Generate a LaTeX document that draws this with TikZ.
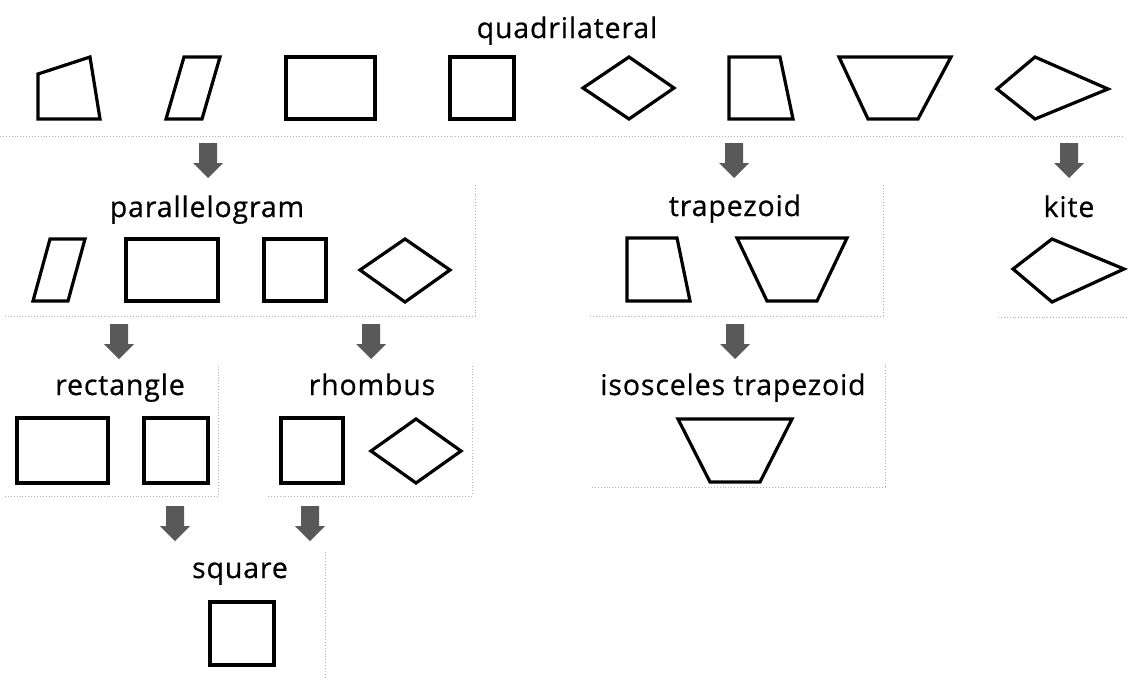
\documentclass[tikz,border=0pt]{standalone}
\usepackage{fontspec}
\setmainfont{Open Sans}
\newfontfamily\lblfont[LetterSpace=3, FakeBold=0.6]{Open Sans}
\tikzset{
  fig/.style={draw=black, line width=3.2pt, line join=miter},
  lbl/.style={font=\lblfont\fontsize{28.5}{33}\selectfont, anchor=base, inner sep=0pt},
  edge/.style={draw=black!30, line width=0.9pt, dotted},
  downarrow/.pic={\fill[black!65] (-9,0) -- (9,0) -- (9,20) -- (15,20) -- (0,35) -- (-15,20) -- (-9,20) -- cycle;},
}
\begin{document}
\begin{tikzpicture}[x=1pt,y=-1pt]
\useasboundingbox (0,0) rectangle (1128,680);
% group edges
\draw[edge] (0,136) -- (1125,136);
\draw[edge] (5,316) -- (475,316) -- (475,185);
\draw[edge] (590,316) -- (883,316) -- (883,183);
\draw[edge] (998,317) -- (1128,317);
\draw[edge] (5,496) -- (218,496) -- (218,365);
\draw[edge] (268,496) -- (472,496) -- (472,365);
\draw[edge] (592,487) -- (885,487) -- (885,365);
\draw[edge] (325,552) -- (325,680);
% labels
\node[lbl] (quad) at (567,38) {quadrilateral};
\node[lbl] (para) at (207,217) {parallelogram};
\node[lbl] (trap) at (735,216) {trapezoid};
\node[lbl] (kite) at (1069,217) {kite};
\node[lbl] (rect) at (120,395) {rectangle};
\node[lbl] (rhom) at (372,395) {rhombus};
\node[lbl] (isot) at (733,395) {isosceles trapezoid};
\node[lbl] (squa) at (240,578) {square};
% top row
\draw[fig] (38,74) -- (90,57) -- (100,119) -- (38,119) -- cycle;
\draw[fig] (184,57) -- (220,57) -- (202,119) -- (166,119) -- cycle;
\draw[fig] (286,57) rectangle (375,119);
\draw[fig] (450,57) rectangle (514,119);
\draw[fig] (583,88) -- (629,57) -- (674,88) -- (629,119) -- cycle;
\draw[fig] (729,57) -- (780,57) -- (793,119) -- (729,119) -- cycle;
\draw[fig] (839,57) -- (951,57) -- (918,119) -- (868,119) -- cycle;
\draw[fig] (997,89) -- (1035,57) -- (1108,89) -- (1035,119) -- cycle;
% parallelogram group
\draw[fig] (50,239) -- (85,239) -- (68,301) -- (33,301) -- cycle;
\draw[fig] (126,239) rectangle (218,301);
\draw[fig] (264,239) rectangle (326,301);
\draw[fig] (360,270) -- (405,239) -- (450,270) -- (405,302) -- cycle;
% trapezoid group
\draw[fig] (627,238) -- (677,238) -- (690,301) -- (627,301) -- cycle;
\draw[fig] (737,238) -- (847,238) -- (817,301) -- (767,301) -- cycle;
% kite group
\draw[fig] (1013,269) -- (1052,239) -- (1124,269) -- (1052,302) -- cycle;
% rectangle group
\draw[fig] (17,418) rectangle (108,483);
\draw[fig] (144,418) rectangle (208,483);
% rhombus group
\draw[fig] (281,418) rectangle (343,483);
\draw[fig] (371,451) -- (416,419) -- (461,451) -- (416,483) -- cycle;
% isosceles trapezoid group
\draw[fig] (678,419) -- (792,419) -- (760,482) -- (710,482) -- cycle;
% square group
\draw[fig] (210,602) rectangle (274,665);
% arrows
\pic at (208,143) {downarrow};
\pic at (734,143) {downarrow};
\pic at (1069,143) {downarrow};
\pic at (119,324) {downarrow};
\pic at (371,324) {downarrow};
\pic at (735,324) {downarrow};
\pic at (175,506) {downarrow};
\pic at (310,506) {downarrow};
\end{tikzpicture}
\end{document}
